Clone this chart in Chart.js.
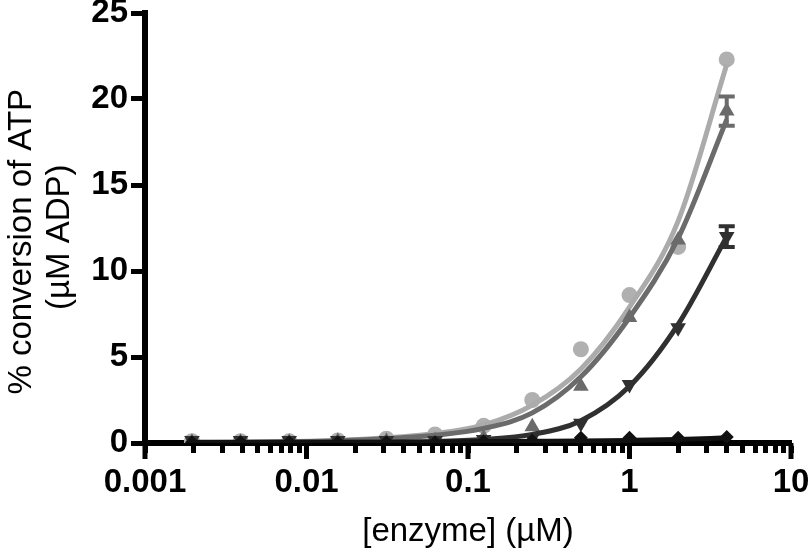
<!DOCTYPE html>
<html>
<head>
<meta charset="utf-8">
<script src="https://cdn.jsdelivr.net/npm/chart.js@4.4.1/dist/chart.umd.min.js"></script>
<style>
  html, body { margin: 0; padding: 0; background: #fff; }
  #wrap { width: 810px; height: 557px; }
</style>
</head>
<body>
<div id="wrap"><canvas id="chart" width="810" height="557"></canvas></div>
<script>
// enzyme concentrations (µM), two-fold dilutions
const conc = [0.001953, 0.003906, 0.007813, 0.015625, 0.03125, 0.0625, 0.125, 0.25, 0.5, 1, 2, 4];

// measured points (µM ADP)
const circles   = [0.1, 0.1, 0.1, 0.15, 0.25, 0.5, 1.0, 2.5, 5.45, 8.6, 11.4, 22.3];
const triUp     = [0.05, 0.05, 0.05, 0.1, 0.1, 0.15, 0.3, 0.95, 3.3, 7.3, 11.8, 19.3];
const triDown   = [0.15, 0.15, 0.15, 0.15, 0.15, 0.15, 0.2, 0.3, 1.15, 3.4, 6.7, 12.0];
const diamonds  = [0.05, 0.05, 0.05, 0.05, 0.05, 0.05, 0.1, 0.15, 0.3, 0.3, 0.3, 0.35];

// error (± SD) where visible
const triUpErr   = [0, 0, 0, 0, 0, 0, 0, 0, 0, 0, 0, 0.85];
const triDownErr = [0, 0, 0, 0, 0, 0, 0, 0, 0, 0, 0, 0.6];

// fitted curves
const fitLight = [0.02, 0.04, 0.08, 0.15, 0.3, 0.55, 1.05, 2.2, 4.3, 7.9, 12.9, 22.0];
const fitMed   = [0.02, 0.03, 0.07, 0.13, 0.25, 0.45, 0.85, 1.75, 3.85, 7.3, 11.9, 18.8];
const fitDark  = [0.03, 0.03, 0.03, 0.04, 0.05, 0.08, 0.2, 0.5, 1.3, 3.3, 6.9, 12.0];
const fitBlack = [0.05, 0.05, 0.05, 0.05, 0.05, 0.06, 0.08, 0.1, 0.12, 0.15, 0.2, 0.3];

// axes
const xMajor = [0.001, 0.01, 0.1, 1, 10];
const xTickLabels = ['0.001', '0.01', '0.1', '1', '10'];
const yTicks = [0, 5, 10, 15, 20, 25];

const FONT = '"Liberation Sans", Arial, Helvetica, sans-serif';

const pts = arr => arr.map((y, i) => ({ x: conc[i], y }));

const curve = (data, color, order) => ({
  type: 'line',
  data: pts(data),
  borderColor: color,
  borderWidth: 5,
  pointRadius: 0,
  cubicInterpolationMode: 'monotone',
  fill: false,
  order
});

const marks = (data, color, style, radius, rotation, order) => ({
  type: 'line',
  data: pts(data),
  showLine: false,
  pointStyle: style,
  pointRadius: radius,
  pointRotation: rotation,
  pointBackgroundColor: color,
  pointBorderColor: color,
  pointBorderWidth: 0,
  order
});

// major x ticks are longer than the minor ones
const majorTicks = {
  id: 'majorTicks',
  afterDraw(chart) {
    const x = chart.scales.x;
    const c = chart.ctx;
    c.save();
    c.strokeStyle = '#000';
    c.lineWidth = 5;
    xMajor.forEach(v => {
      const px = x.getPixelForValue(v);
      c.beginPath();
      c.moveTo(px, x.top);
      c.lineTo(px, x.top + 16);
      c.stroke();
    });
    c.restore();
  }
};

const errorBars = {
  id: 'errorBars',
  afterDatasetsDraw(chart) {
    const x = chart.scales.x, y = chart.scales.y;
    const c = chart.ctx;
    const sets = [[triUp, triUpErr, '#6b6b6b'], [triDown, triDownErr, '#303030']];
    c.save();
    c.lineWidth = 4;
    sets.forEach(([vals, errs, color]) => {
      c.strokeStyle = color;
      vals.forEach((v, i) => {
        if (!errs[i]) return;
        const px = x.getPixelForValue(conc[i]);
        const top = y.getPixelForValue(v + errs[i]);
        const bot = y.getPixelForValue(v - errs[i]);
        c.beginPath();
        c.moveTo(px, top); c.lineTo(px, bot);
        c.moveTo(px - 8, top); c.lineTo(px + 8, top);
        c.moveTo(px - 8, bot); c.lineTo(px + 8, bot);
        c.stroke();
      });
    });
    c.restore();
  }
};

new Chart(document.getElementById('chart'), {
  type: 'line',
  data: {
    datasets: [
      curve(fitBlack, '#111111', 1),
      marks(diamonds, '#111111', 'rectRot', 7, 0, 2),
      curve(fitDark, '#303030', 3),
      marks(triDown, '#303030', 'triangle', 9, 180, 4),
      curve(fitMed, '#6b6b6b', 5),
      marks(triUp, '#6b6b6b', 'triangle', 9, 0, 6),
      curve(fitLight, '#ababab', 7),
      marks(circles, '#b0b0b0', 'circle', 8, 0, 8)
    ]
  },
  options: {
    responsive: false,
    animation: false,
    layout: { padding: { top: 13, right: 19, bottom: 0, left: 0 } },
    plugins: {
      legend: { display: false },
      tooltip: { enabled: false }
    },
    scales: {
      x: {
        type: 'logarithmic',
        min: 0.001,
        max: 10,
        z: 1,
        afterBuildTicks: s => {
          const vals = [];
          xMajor.slice(0, -1).forEach(d => {
            for (let m = 1; m <= 9; m++) vals.push(+(d * m).toPrecision(3));
          });
          vals.push(xMajor[xMajor.length - 1]);
          s.ticks = vals.map(v => ({ value: v }));
        },
        afterFit: s => { s.height = 114; s.paddingLeft = 0; s.paddingRight = 0; },
        border: { display: true, color: '#000', width: 6 },
        grid: { drawOnChartArea: false, drawTicks: true, tickLength: 10, tickWidth: 5, tickColor: '#000' },
        ticks: {
          autoSkip: false,
          maxRotation: 0,
          padding: 10,
          color: '#000',
          font: { family: FONT, size: 33, weight: 'bold' },
          callback: v => {
            const i = xMajor.findIndex(m => Math.abs(m - v) < m * 1e-6);
            return i >= 0 ? xTickLabels[i] : '';
          }
        },
        title: {
          display: true,
          text: '[enzyme] (µM)',
          color: '#000',
          font: { family: FONT, size: 33, lineHeight: 1.2 },
          padding: { top: 0, bottom: 5 }
        }
      },
      y: {
        min: 0,
        max: 25,
        afterBuildTicks: s => { s.ticks = yTicks.map(v => ({ value: v })); },
        afterFit: s => { s.width = 145; s.paddingTop = 0; s.paddingBottom = 0; },
        border: { display: true, color: '#000', width: 6 },
        grid: { drawOnChartArea: false, drawTicks: true, tickLength: 14, tickWidth: 5, tickColor: '#000' },
        ticks: {
          padding: 3,
          color: '#000',
          font: { family: FONT, size: 33, weight: 'bold' }
        },
        title: {
          display: true,
          // trailing spaces nudge the rotated title a little lower, as in the original
          text: ['% conversion of ATP   ', '(µM ADP)  '],
          color: '#000',
          font: { family: FONT, size: 33, lineHeight: 1.15 },
          padding: { top: 3, bottom: 0 }
        }
      }
    }
  },
  plugins: [errorBars, majorTicks]
});
</script>
</body>
</html>
